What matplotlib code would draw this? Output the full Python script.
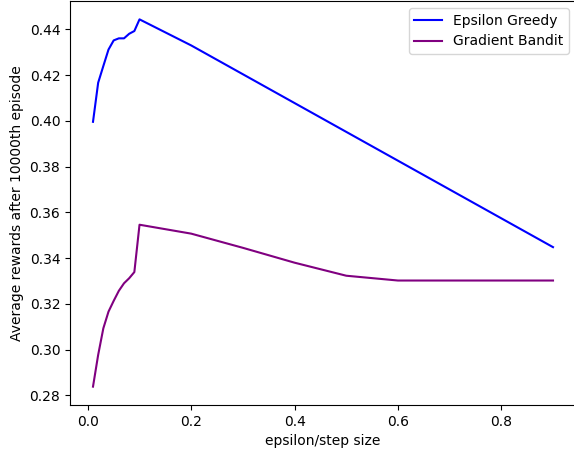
import matplotlib
matplotlib.use('Agg')
from matplotlib import pyplot as plt

# epsilon / step size values
steps = [0.01, 0.02, 0.03, 0.04, 0.05, 0.06, 0.07, 0.08, 0.09, 0.1,
         0.2, 0.3, 0.4, 0.5, 0.6, 0.7, 0.8, 0.9]

# average reward after 10000th episode
epsilon_greedy = [0.3996, 0.4167, 0.4240, 0.4312, 0.4352, 0.4361, 0.4361,
                  0.4381, 0.4393, 0.4444,
                  0.4330, 0.4204, 0.4078, 0.3952, 0.3826, 0.3700, 0.3574,
                  0.3448]
gradient_bandit = [0.2838, 0.2977, 0.3093, 0.3166, 0.3213, 0.3257, 0.3290,
                   0.3312, 0.3339, 0.3546,
                   0.3507, 0.3445, 0.3380, 0.3323, 0.3302, 0.3302, 0.3302,
                   0.3302]

fig = plt.figure(figsize=(5.74, 4.5), dpi=100)
ax = fig.add_axes([70 / 574, 45 / 450, 506 / 574, 404 / 450])

ax.plot(steps, epsilon_greedy, color='blue', label='Epsilon Greedy')
ax.plot(steps, gradient_bandit, color='purple', label='Gradient Bandit')

ax.set_xlabel('epsilon/step size')
ax.set_ylabel('Average rewards after 10000th episode')
ax.legend(loc='upper right')

fig.savefig('out.png', dpi=100)
